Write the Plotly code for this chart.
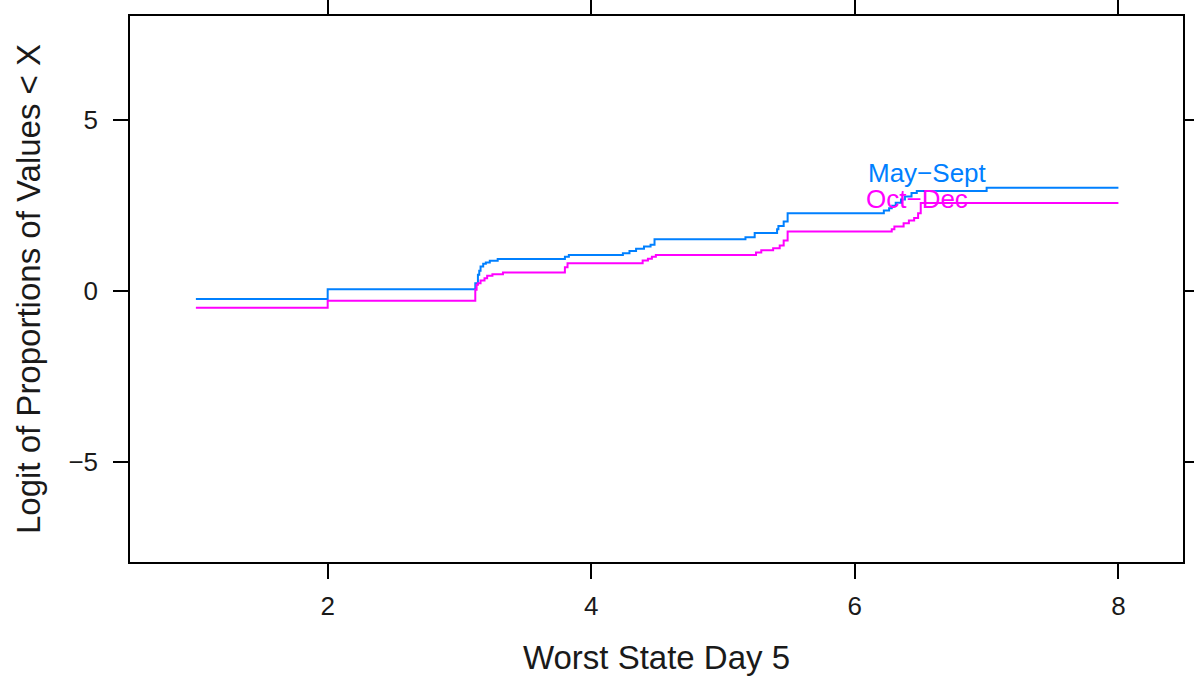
import plotly.graph_objects as go

# Step-function data (Worst State Day 5 vs logit of cumulative proportions)
may_x = [1.0, 2.0, 3.12, 3.14, 3.15, 3.16, 3.18, 3.20, 3.23, 3.29, 3.80, 3.83,
         4.24, 4.29, 4.34, 4.40, 4.45, 4.48, 5.17, 5.24, 5.41, 5.42, 5.46, 5.49,
         6.22, 6.26, 6.28, 6.31, 6.35, 6.38, 6.43, 6.47, 7.0, 8.0]
may_y = [-0.24, 0.05, 0.22, 0.47, 0.59, 0.71, 0.79, 0.83, 0.88, 0.93, 1.00, 1.05,
         1.10, 1.17, 1.23, 1.30, 1.35, 1.51, 1.57, 1.69, 1.80, 1.90, 2.03, 2.27,
         2.35, 2.42, 2.49, 2.58, 2.67, 2.76, 2.86, 2.92, 3.02, 3.02]

oct_x = [1.0, 2.0, 3.12, 3.13, 3.14, 3.16, 3.19, 3.21, 3.25, 3.33, 3.80, 3.82,
         4.39, 4.43, 4.46, 4.49, 5.25, 5.29, 5.38, 5.43, 5.46, 5.49,
         6.28, 6.30, 6.37, 6.41, 6.45, 6.48, 6.50, 8.0]
oct_y = [-0.49, -0.29, 0.03, 0.18, 0.22, 0.30, 0.37, 0.44, 0.49, 0.54, 0.69, 0.81,
         0.89, 0.94, 1.00, 1.05, 1.12, 1.19, 1.25, 1.33, 1.47, 1.74,
         1.80, 1.88, 1.98, 2.06, 2.13, 2.27, 2.57, 2.57]

series_names = ["May\u2212Sept", "Oct\u2212Dec"]
series_colors = ["#0080ff", "#ff00ff"]
label_pos = [(6.55, 3.45), (6.47, 2.69)]

x_ticks = [2, 4, 6, 8]
y_ticks = [-5, 0, 5]

FONT = "Liberation Sans, Arial, Helvetica, sans-serif"

fig = go.Figure()
for xs, ys, name, col in [(may_x, may_y, series_names[0], series_colors[0]),
                          (oct_x, oct_y, series_names[1], series_colors[1])]:
    fig.add_trace(go.Scatter(x=xs, y=ys, mode="lines", name=name,
                             line=dict(color=col, width=2, shape="hv"),
                             showlegend=False, hoverinfo="x+y"))

for (lx, ly), name, col in zip(label_pos, series_names, series_colors):
    fig.add_annotation(x=lx, y=ly, text=name, showarrow=False,
                       font=dict(family=FONT, size=26, color=col),
                       xanchor="center", yanchor="middle")

axis_common = dict(showline=True, linecolor="black", linewidth=1.5, mirror="ticks",
                   ticks="outside", ticklen=15, tickwidth=1.5, tickcolor="black",
                   showgrid=False, zeroline=False,
                   tickfont=dict(family=FONT, size=26, color="#1a1a1a"))

fig.update_layout(
    width=1194, height=677,
    margin=dict(l=130, r=11, t=16, b=115, autoexpand=False),
    paper_bgcolor="white", plot_bgcolor="white",
    font=dict(family=FONT, color="black"),
    xaxis=dict(range=[0.5, 8.49], tickvals=x_ticks, ticklabelstandoff=5,
               title=dict(text="Worst State Day 5", standoff=26,
                          font=dict(family=FONT, size=33, color="#1a1a1a")),
               **axis_common),
    yaxis=dict(range=[-7.93, 8.04], tickvals=y_ticks, ticklabelstandoff=10,
               tickformat="d",
               title=dict(text="Logit of Proportions of Values < X", standoff=18,
                          font=dict(family=FONT, size=33, color="#1a1a1a")),
               **axis_common),
)

fig.write_html("out.html")
